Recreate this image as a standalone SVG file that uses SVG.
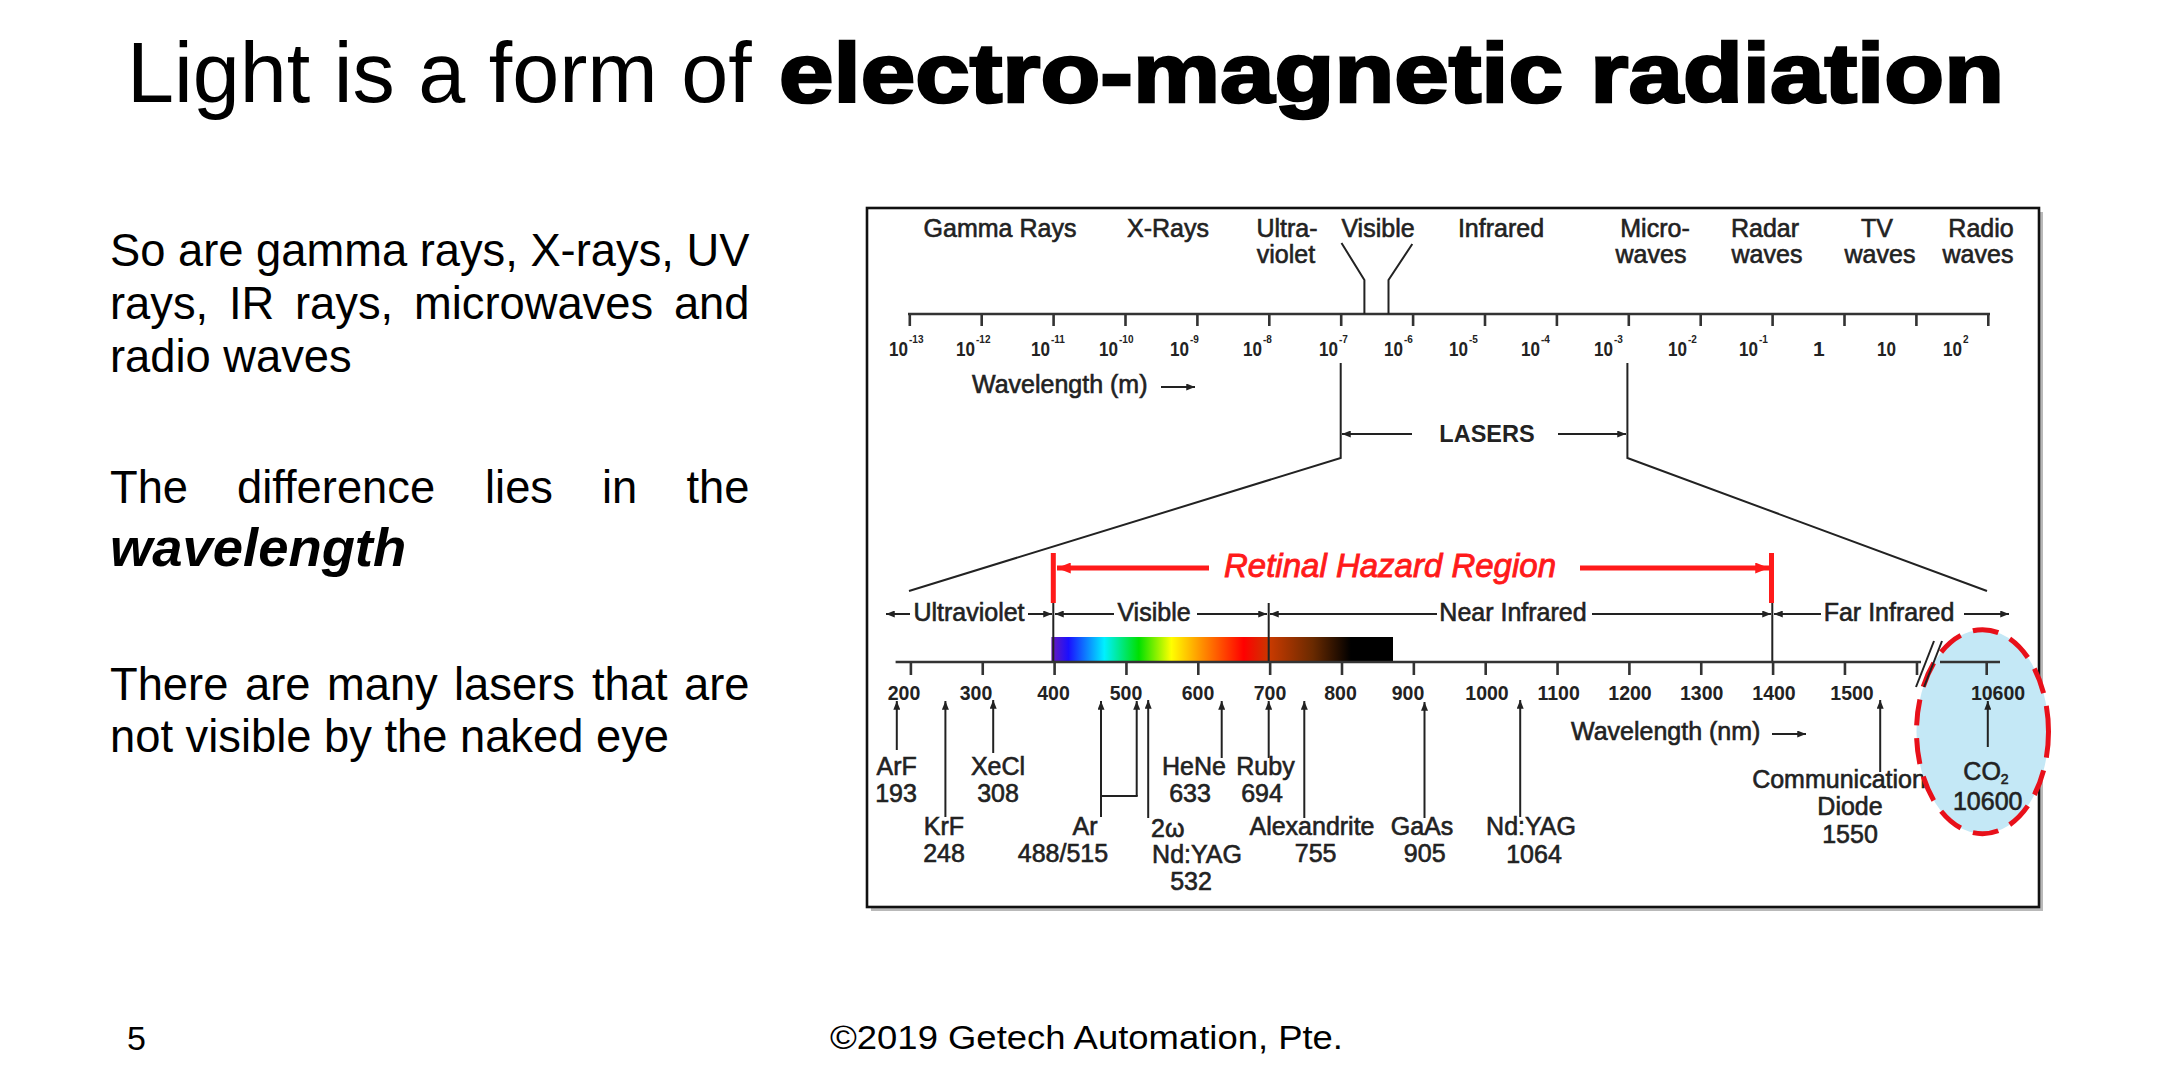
<svg xmlns="http://www.w3.org/2000/svg" width="2180" height="1085" viewBox="0 0 2180 1085">
<style>
.t{font-family:"Liberation Sans",Arial,sans-serif;}
.body{font-family:"Liberation Sans",Arial,sans-serif;font-size:45.3px;fill:#000;}
.lb{font-family:"Liberation Sans",Arial,sans-serif;font-size:25px;fill:#222;stroke:#222;stroke-width:0.6;text-anchor:middle;}
.pw{font-family:"Liberation Sans",Arial,sans-serif;font-size:21px;font-weight:bold;fill:#222;}
.ex{font-family:"Liberation Sans",Arial,sans-serif;font-size:10px;font-weight:bold;fill:#222;}
.num{font-family:"Liberation Sans",Arial,sans-serif;font-size:19.5px;font-weight:bold;fill:#222;text-anchor:middle;}
.ln{stroke:#222;stroke-width:2;fill:none;}
.ax{stroke:#333;stroke-width:2.6;fill:none;}
.ar{stroke:#222;stroke-width:2;fill:none;marker-end:url(#ah);}
.rd{stroke:#ff1a1a;stroke-width:5;fill:none;marker-end:url(#ahr);}
</style>
<defs>
<marker id="ah" viewBox="0 0 10 8" refX="10" refY="4" markerWidth="9" markerHeight="7" orient="auto" markerUnits="userSpaceOnUse"><path d="M0,0 L10,4 L0,8 z" fill="#222"/></marker>
<marker id="ahr" viewBox="0 0 10 8" refX="10" refY="4" markerWidth="14" markerHeight="11" orient="auto" markerUnits="userSpaceOnUse"><path d="M0,0 L10,4 L0,8 z" fill="#ff1a1a"/></marker>
<linearGradient id="spec" x1="0" y1="0" x2="1" y2="0">
<stop offset="0" stop-color="#6a1ab8"/>
<stop offset="0.05" stop-color="#1a10ff"/>
<stop offset="0.155" stop-color="#00f0ff"/>
<stop offset="0.256" stop-color="#00e000"/>
<stop offset="0.351" stop-color="#ffff00"/>
<stop offset="0.44" stop-color="#ff9000"/>
<stop offset="0.563" stop-color="#ff0000"/>
<stop offset="0.64" stop-color="#c83a00"/>
<stop offset="0.765" stop-color="#6a2a00"/>
<stop offset="0.877" stop-color="#000"/>
<stop offset="1" stop-color="#000"/>
</linearGradient>
</defs>
<rect width="2180" height="1085" fill="#fff"/>

<g id="title">
<text class="t" x="127" y="102" font-size="84.5">Light is a form of</text>
<text class="t" x="779" y="102" font-size="84" font-weight="bold" stroke="#000" stroke-width="2.6" textLength="1225" lengthAdjust="spacingAndGlyphs">electro-magnetic radiation</text>
</g>

<g id="left-text">
<text class="body" y="266"><tspan x="110">So are gamma rays, X-rays, UV</tspan></text>
<text class="body" y="319"><tspan x="110">rays,</tspan><tspan x="229">IR</tspan><tspan x="295">rays,</tspan><tspan x="414">microwaves</tspan><tspan x="749.5" text-anchor="end">and</tspan></text>
<text class="body" y="372"><tspan x="110">radio waves</tspan></text>
<text class="body" y="503"><tspan x="110">The</tspan><tspan x="237">difference</tspan><tspan x="485">lies</tspan><tspan x="602">in</tspan><tspan x="749.5" text-anchor="end">the</tspan></text>
<text class="body" x="110" y="566" style="font-size:54.4px;font-weight:bold;font-style:italic">wavelength</text>
<text class="body" y="700"><tspan x="110">There</tspan><tspan x="245">are</tspan><tspan x="327">many</tspan><tspan x="454">lasers</tspan><tspan x="592">that</tspan><tspan x="749.5" text-anchor="end">are</tspan></text>
<text class="body" y="752"><tspan x="110">not visible by the naked eye</tspan></text>
</g>

<g id="footer">
<text class="t" x="127" y="1050" font-size="34">5</text>
<text class="t" x="830" y="1049" font-size="34" textLength="513" lengthAdjust="spacingAndGlyphs">©2019 Getech Automation, Pte.</text>
</g>

<g id="chart">
<rect x="871" y="212" width="1172" height="699" fill="#8a8a8a" opacity="0.6"/>
<rect x="867" y="208" width="1172" height="699" fill="#fff" stroke="#111" stroke-width="2.6"/>

<g id="top-labels">
<text class="lb" x="1000" y="237">Gamma Rays</text>
<text class="lb" x="1168" y="237">X-Rays</text>
<text class="lb" x="1287" y="237">Ultra-</text>
<text class="lb" x="1286" y="263">violet</text>
<text class="lb" x="1378" y="237">Visible</text>
<text class="lb" x="1501" y="237">Infrared</text>
<text class="lb" x="1655" y="237">Micro-</text>
<text class="lb" x="1651" y="263">waves</text>
<text class="lb" x="1765" y="237">Radar</text>
<text class="lb" x="1767" y="263">waves</text>
<text class="lb" x="1877" y="237">TV</text>
<text class="lb" x="1880" y="263">waves</text>
<text class="lb" x="1981" y="237">Radio</text>
<text class="lb" x="1978" y="263">waves</text>
</g>

<g id="top-axis">
<line class="ax" x1="908" y1="314" x2="1990" y2="314"/>
<path class="ax" d="M909.8,314v12 M981.7,314v12 M1053.6,314v12 M1125.5,314v12 M1197.4,314v12 M1269.3,314v12 M1341.2,314v12 M1413.1,314v12 M1485,314v12 M1556.9,314v12 M1628.8,314v12 M1700.7,314v12 M1772.6,314v12 M1844.5,314v12 M1916.4,314v12 M1988.3,314v12"/>
<g id="powers">
<text class="pw" x="889" y="356" textLength="19" lengthAdjust="spacingAndGlyphs">10</text><text class="ex" x="909" y="343">-13</text>
<text class="pw" x="956" y="356" textLength="19" lengthAdjust="spacingAndGlyphs">10</text><text class="ex" x="976" y="343">-12</text>
<text class="pw" x="1031" y="356" textLength="19" lengthAdjust="spacingAndGlyphs">10</text><text class="ex" x="1051" y="343">-11</text>
<text class="pw" x="1099" y="356" textLength="19" lengthAdjust="spacingAndGlyphs">10</text><text class="ex" x="1119" y="343">-10</text>
<text class="pw" x="1170" y="356" textLength="19" lengthAdjust="spacingAndGlyphs">10</text><text class="ex" x="1190" y="343">-9</text>
<text class="pw" x="1243" y="356" textLength="19" lengthAdjust="spacingAndGlyphs">10</text><text class="ex" x="1263" y="343">-8</text>
<text class="pw" x="1319" y="356" textLength="19" lengthAdjust="spacingAndGlyphs">10</text><text class="ex" x="1339" y="343">-7</text>
<text class="pw" x="1384" y="356" textLength="19" lengthAdjust="spacingAndGlyphs">10</text><text class="ex" x="1404" y="343">-6</text>
<text class="pw" x="1449" y="356" textLength="19" lengthAdjust="spacingAndGlyphs">10</text><text class="ex" x="1469" y="343">-5</text>
<text class="pw" x="1521" y="356" textLength="19" lengthAdjust="spacingAndGlyphs">10</text><text class="ex" x="1541" y="343">-4</text>
<text class="pw" x="1594" y="356" textLength="19" lengthAdjust="spacingAndGlyphs">10</text><text class="ex" x="1614" y="343">-3</text>
<text class="pw" x="1668" y="356" textLength="19" lengthAdjust="spacingAndGlyphs">10</text><text class="ex" x="1688" y="343">-2</text>
<text class="pw" x="1739" y="356" textLength="19" lengthAdjust="spacingAndGlyphs">10</text><text class="ex" x="1759" y="343">-1</text>
<text class="pw" x="1813" y="356">1</text>
<text class="pw" x="1877" y="356" textLength="19" lengthAdjust="spacingAndGlyphs">10</text>
<text class="pw" x="1943" y="356" textLength="19" lengthAdjust="spacingAndGlyphs">10</text><text class="ex" x="1963" y="343">2</text>
</g>
<text class="lb" x="972" y="393" style="text-anchor:start">Wavelength (m)</text>
</g>

<g id="connectors">
<polyline class="ln" points="1341.5,243 1364.4,280 1364.4,314"/>
<polyline class="ln" points="1412.3,244 1388.5,280 1388.5,314"/>
<line class="ar" x1="1161" y1="387" x2="1195" y2="387"/>
<polyline class="ln" points="1340.7,363 1340.7,458 909,591"/>
<polyline class="ln" points="1627.4,363 1627.4,458 1987,591"/>
<line class="ar" x1="1412" y1="434" x2="1342" y2="434"/>
<line class="ar" x1="1558" y1="434" x2="1626" y2="434"/>
<line class="rd" x1="1209" y1="568" x2="1057" y2="568"/>
<line class="rd" x1="1580" y1="568" x2="1769" y2="568"/>
<line class="ar" x1="910" y1="614" x2="886" y2="614"/>
<line class="ar" x1="1028" y1="614" x2="1052" y2="614"/>
<line class="ar" x1="1114" y1="614" x2="1055" y2="614"/>
<line class="ar" x1="1197" y1="614" x2="1267" y2="614"/>
<line class="ar" x1="1437" y1="614" x2="1270" y2="614"/>
<line class="ar" x1="1592" y1="614" x2="1771" y2="614"/>
<line class="ar" x1="1821" y1="614" x2="1774" y2="614"/>
<line class="ar" x1="1964" y1="614" x2="2009" y2="614"/>
<line class="ar" x1="1772" y1="734" x2="1806" y2="734"/>
<line class="ar" x1="896.8" y1="750" x2="896.8" y2="701"/>
<line class="ar" x1="945.4" y1="817" x2="945.4" y2="701"/>
<line class="ar" x1="993.2" y1="753" x2="993.2" y2="700"/>
<line class="ar" x1="1101" y1="817" x2="1101" y2="701"/>
<line class="ar" x1="1136.7" y1="796" x2="1136.7" y2="701"/>
<line class="ln" x1="1101" y1="796" x2="1137.7" y2="796"/>
<line class="ar" x1="1148.2" y1="818" x2="1148.2" y2="700"/>
<line class="ar" x1="1221.7" y1="758" x2="1221.7" y2="701"/>
<line class="ar" x1="1268.7" y1="758" x2="1268.7" y2="701"/>
<line class="ar" x1="1304.3" y1="818" x2="1304.3" y2="701"/>
<line class="ar" x1="1424.5" y1="818" x2="1424.5" y2="702"/>
<line class="ar" x1="1520.2" y1="817" x2="1520.2" y2="700"/>
<line class="ar" x1="1880.2" y1="772" x2="1880.2" y2="700"/>
</g>

<g id="lasers-label">
<text class="t" x="1487" y="442" font-size="23.5" font-weight="bold" fill="#222" text-anchor="middle">LASERS</text>
</g>

<g id="retinal">
<rect x="1050.8" y="553" width="5" height="50" fill="#ff1a1a"/>
<rect x="1769" y="553" width="5" height="50" fill="#ff1a1a"/>
<text class="t" x="1224" y="577" font-size="33" font-style="italic" fill="#ff1a1a" stroke="#ff1a1a" stroke-width="0.9">Retinal Hazard Region</text>
</g>

<g id="regions">
<text class="lb" x="969" y="621">Ultraviolet</text>
<text class="lb" x="1154" y="621">Visible</text>
<text class="lb" x="1513" y="621">Near Infrared</text>
<text class="lb" x="1889" y="621">Far Infrared</text>
<rect x="1051.4" y="637" width="341.6" height="25" fill="url(#spec)"/>
<path class="ln" d="M1053.3,603V662 M1268.7,603V662 M1772.3,603V662"/>
</g>

<g id="bottom-axis">
<line class="ax" x1="895.6" y1="662" x2="1921" y2="662"/>
<path class="ax" d="M910.9,662v13 M982.75,662v13 M1054.6,662v13 M1126.45,662v13 M1198.3,662v13 M1270.15,662v13 M1342,662v13 M1413.85,662v13 M1485.7,662v13 M1557.55,662v13 M1629.4,662v13 M1701.25,662v13 M1773.1,662v13 M1844.95,662v13 M1917,662v13"/>
<text class="num" x="904" y="700">200</text>
<text class="num" x="976" y="700">300</text>
<text class="num" x="1053.5" y="700">400</text>
<text class="num" x="1126" y="700">500</text>
<text class="num" x="1198" y="700">600</text>
<text class="num" x="1270" y="700">700</text>
<text class="num" x="1340.5" y="700">800</text>
<text class="num" x="1408" y="700">900</text>
<text class="num" x="1487" y="700">1000</text>
<text class="num" x="1558.6" y="700">1100</text>
<text class="num" x="1630" y="700">1200</text>
<text class="num" x="1701.7" y="700">1300</text>
<text class="num" x="1774" y="700">1400</text>
<text class="num" x="1852" y="700">1500</text>
<text class="lb" x="1571" y="740" style="text-anchor:start">Wavelength (nm)</text>
</g>

<g id="laser-labels">
<text class="lb" x="896.6" y="775">ArF</text><text class="lb" x="896" y="802">193</text>
<text class="lb" x="944" y="835">KrF</text><text class="lb" x="944" y="862">248</text>
<text class="lb" x="998" y="775">XeCl</text><text class="lb" x="998" y="802">308</text>
<text class="lb" x="1085" y="835">Ar</text><text class="lb" x="1063" y="862">488/515</text>
<text class="lb" x="1151" y="837" style="text-anchor:start">2ω</text>
<text class="lb" x="1197" y="863">Nd:YAG</text><text class="lb" x="1191" y="890">532</text>
<text class="lb" x="1194" y="775">HeNe</text><text class="lb" x="1190" y="802">633</text>
<text class="lb" x="1265.5" y="775">Ruby</text><text class="lb" x="1262" y="802">694</text>
<text class="lb" x="1312" y="835">Alexandrite</text><text class="lb" x="1315.6" y="862">755</text>
<text class="lb" x="1422" y="835">GaAs</text><text class="lb" x="1424.7" y="862">905</text>
<text class="lb" x="1531" y="835">Nd:YAG</text><text class="lb" x="1534" y="863">1064</text>
<text class="lb" x="1839" y="788">Communication</text><text class="lb" x="1850" y="815">Diode</text><text class="lb" x="1850" y="843">1550</text>
</g>

<g id="co2-highlight">
<line class="ln" x1="1916" y1="687" x2="1934" y2="641"/>
<ellipse cx="1982.5" cy="731.7" rx="66" ry="102" fill="#c4e8f6" stroke="#e8101a" stroke-width="5" stroke-dasharray="26 13"/>
<line class="ln" x1="1924" y1="687" x2="1942" y2="641"/>
<line class="ax" x1="1940" y1="662" x2="2000" y2="662"/>
<path class="ax" d="M1986.7,662v13"/>
<text class="num" x="1998" y="700">10600</text>
<line class="ar" x1="1987.8" y1="747" x2="1987.8" y2="701"/>
<text class="lb" x="1986" y="780">CO<tspan style="font-size:14px" dy="4">2</tspan></text>
<text class="lb" x="1987.7" y="810">10600</text>
</g>
</g>
</svg>
